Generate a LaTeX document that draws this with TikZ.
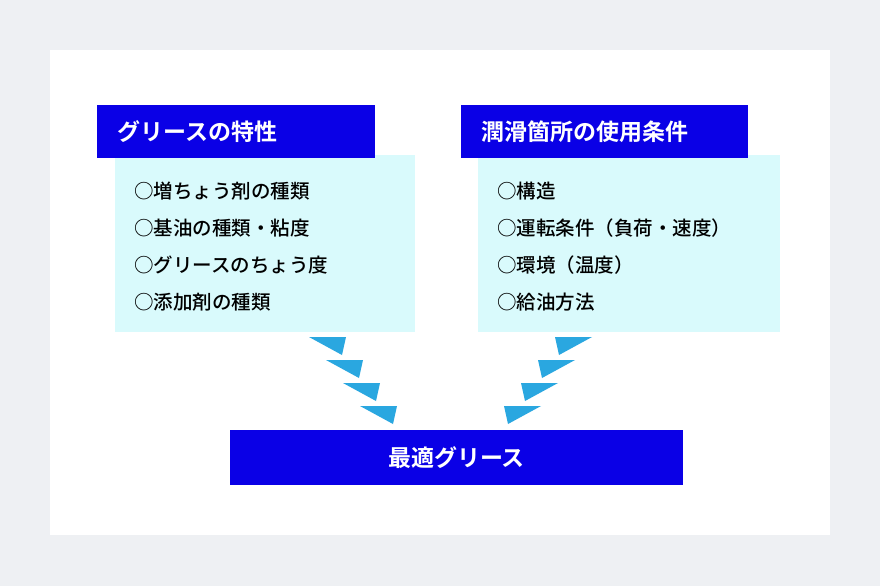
\documentclass[tikz,border=0pt]{standalone}
\usepackage{fontspec}
\setmainfont{Noto Sans CJK JP Medium}
\newfontfamily\jpbold{Noto Sans CJK JP Bold}
\definecolor{pagegray}{HTML}{EEF0F3}
\definecolor{headblue}{HTML}{0A00E6}
\definecolor{paleCyan}{HTML}{D9FAFC}
\definecolor{arrowCyan}{HTML}{2AA7E0}
\tikzset{
  head/.style={fill=headblue,draw=none,text=white,font=\jpbold\fontsize{23}{27}\selectfont},
  panel/.style={fill=paleCyan,draw=none},
  item/.style={anchor=west,font=\fontsize{19.5}{22}\selectfont,text=black,inner sep=0pt},
  chev/.style={fill=arrowCyan,draw=none}
}
\begin{document}
\begin{tikzpicture}[x=1pt,y=-1pt]
  \useasboundingbox (0,0) rectangle (880,586);
  \fill[pagegray] (0,0) rectangle (880,586);
  \fill[white] (50,50) rectangle (830,535);
  % panels
  \fill[panel] (115,155) rectangle (415,332);
  \fill[panel] (478,155) rectangle (780,332);
  \node[head,minimum width=278pt,minimum height=53pt] (lhead) at (236,131.5) {};
  \node[head,anchor=west] at (114,131.5) {グリースの特性};
  \node[head,minimum width=287pt,minimum height=53pt] (rhead) at (604.5,131.5) {};
  \node[head,anchor=west] at (478,131.5) {潤滑箇所の使用条件};
  % items
  \node[item] (l1) at (134,191) {○増ちょう剤の種類};
  \node[item] (l2) at (134,228) {○基油の種類・粘度};
  \node[item] (l3) at (134,265) {○グリースのちょう度};
  \node[item] (l4) at (134,302) {○添加剤の種類};
  \node[item] (r1) at (497,191) {○構造};
  \node[item] (r2) at (497,228) {○運転条件（負荷・速度）};
  \node[item] (r3) at (497,265) {○環境（温度）};
  \node[item] (r4) at (497,302) {○給油方法};
  % chevrons
  \foreach \k in {0,1,2,3} {
    \fill[chev] (309+17*\k,337+23*\k) -- (346+17*\k,337+23*\k) -- (342+17*\k,355+23*\k) -- cycle;
    \fill[chev] (592-17*\k,337+23*\k) -- (555-17*\k,337+23*\k) -- (559-17*\k,355+23*\k) -- cycle;
  }
  \node[head,minimum width=453pt,minimum height=55pt] (best) at (456.5,457.5) {最適グリース};
\end{tikzpicture}
\end{document}
